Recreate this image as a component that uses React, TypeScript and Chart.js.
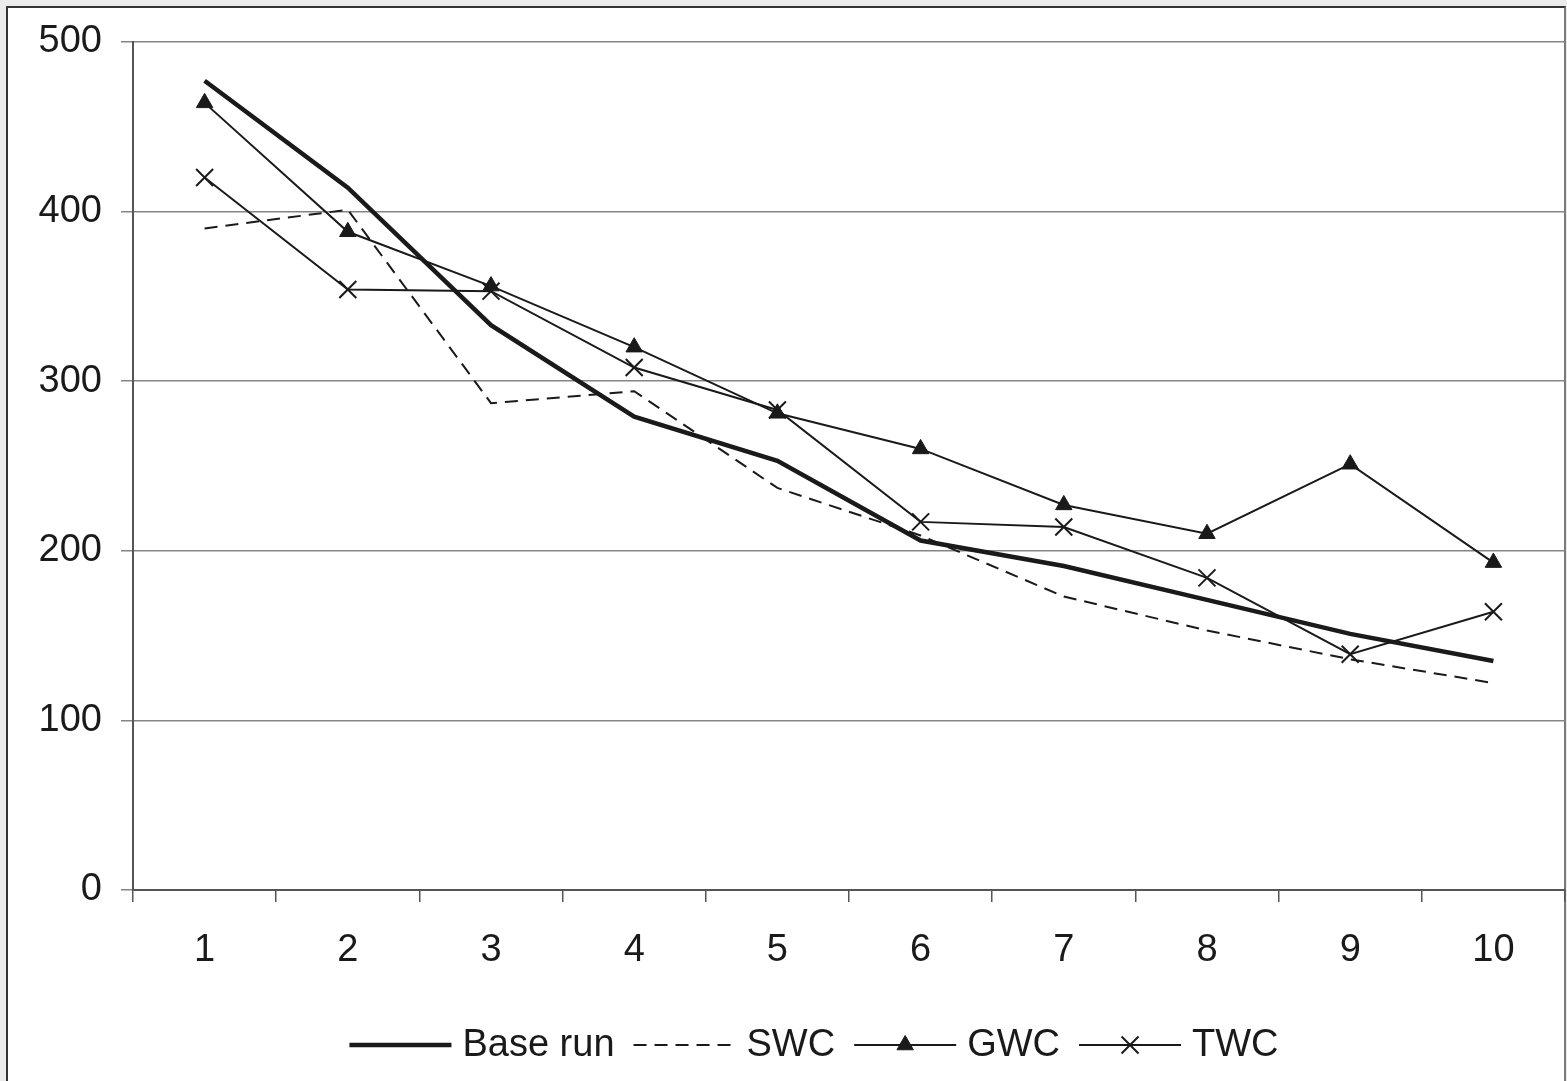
import React, { useEffect, useRef } from 'react';
import { Chart, registerables } from 'chart.js';
import { drawPoint } from 'chart.js/helpers';

Chart.register(...registerables);

const categories = ['1', '2', '3', '4', '5', '6', '7', '8', '9', '10'];
const seriesNames = ['Base run', 'SWC', 'GWC', 'TWC'];
const baseRun = [477, 414, 333, 279, 253, 206, 191, 171, 151, 135];
const swc = [390, 401, 287, 294, 237, 209, 173, 153, 136, 122];
const gwc = [464, 388, 356, 320, 281, 260, 227, 210, 251, 193];
const twc = [420, 354, 353, 308, 283, 217, 214, 184, 139, 164];
const yMin = 0;
const yMax = 500;
const yStep = 100;

const FONT = "'Liberation Sans', Arial, Helvetica, sans-serif";
const INK = '#1a1a1a';
const CANVAS_W = 1579;

const legendPlugin = {
  id: 'lineLegend',
  afterDraw(chart: any) {
    const ctx = chart.ctx;
    ctx.save();
    ctx.font = `38px ${FONT}`;
    const lineLen = 102;
    const gapText = 11;
    const gapItem = 19;
    const items = chart.data.datasets.map((ds: any) => ({ ds, w: ctx.measureText(ds.label).width }));
    const total =
      items.reduce((s: number, it: any) => s + lineLen + gapText + it.w, 0) + gapItem * (items.length - 1);
    let x = 814 - total / 2;
    const y = 1045;
    items.forEach(({ ds, w }: any) => {
      ctx.save();
      ctx.strokeStyle = ds.borderColor;
      ctx.lineWidth = ds.borderWidth;
      ctx.setLineDash(ds.borderDash || []);
      ctx.beginPath();
      ctx.moveTo(x, y);
      ctx.lineTo(x + lineLen, y);
      ctx.stroke();
      ctx.restore();
      if (ds.pointRadius > 0) {
        ctx.save();
        ctx.fillStyle = ds.pointBackgroundColor;
        ctx.strokeStyle = ds.pointBorderColor;
        ctx.lineWidth = ds.pointBorderWidth;
        drawPoint(
          ctx,
          { pointStyle: ds.pointStyle, rotation: 0, borderWidth: ds.pointBorderWidth, radius: ds.pointRadius } as any,
          x + lineLen / 2,
          y
        );
        ctx.restore();
      }
      ctx.fillStyle = INK;
      ctx.textBaseline = 'middle';
      ctx.textAlign = 'left';
      ctx.fillText(ds.label, x + lineLen + gapText, y + 1);
      x += lineLen + gapText + w + gapItem;
    });
    ctx.restore();
  },
};

export default function App() {
  const canvasRef = useRef<HTMLCanvasElement | null>(null);

  useEffect(() => {
    const canvas = canvasRef.current;
    if (!canvas) return;
    const tickFont = { family: FONT, size: 38 };
    const chart = new Chart(canvas, {
      type: 'line',
      data: {
        labels: categories,
        datasets: [
          {
            label: seriesNames[0],
            data: baseRun,
            borderColor: INK,
            borderWidth: 4.5,
            pointRadius: 0,
            fill: false,
            tension: 0,
          },
          {
            label: seriesNames[1],
            data: swc,
            borderColor: INK,
            borderWidth: 2,
            borderDash: [13, 8],
            pointRadius: 0,
            fill: false,
            tension: 0,
          },
          {
            label: seriesNames[2],
            data: gwc,
            borderColor: INK,
            borderWidth: 2,
            pointStyle: 'triangle',
            pointRadius: 9.5,
            pointBackgroundColor: INK,
            pointBorderColor: INK,
            pointBorderWidth: 1,
            fill: false,
            tension: 0,
          },
          {
            label: seriesNames[3],
            data: twc,
            borderColor: INK,
            borderWidth: 2,
            pointStyle: 'crossRot',
            pointRadius: 12,
            pointBackgroundColor: INK,
            pointBorderColor: INK,
            pointBorderWidth: 2,
            fill: false,
            tension: 0,
          },
        ] as any,
      },
      options: {
        responsive: false,
        animation: false,
        devicePixelRatio: 1,
        layout: { padding: { top: 40, right: 0, left: 0, bottom: 0 } },
        plugins: {
          legend: { display: false },
          tooltip: { enabled: false },
          title: { display: false },
        },
        elements: { line: { borderJoinStyle: 'miter' } },
        scales: {
          x: {
            type: 'category',
            offset: true,
            grid: {
              offset: true,
              drawOnChartArea: false,
              drawTicks: true,
              tickLength: 12,
              color: '#555555',
              lineWidth: 1.5,
            },
            border: { display: true, color: '#555555', width: 2 },
            ticks: { font: tickFont, color: INK, padding: 26, maxRotation: 0, autoSkip: false },
            afterFit: (s: any) => {
              s.height = 191;
            },
          },
          y: {
            min: yMin,
            max: yMax,
            ticks: { stepSize: yStep, font: tickFont, color: INK, padding: 19 },
            grid: { color: '#858585', lineWidth: 1.5, tickLength: 12, drawTicks: true },
            border: { display: true, color: '#555555', width: 2 },
            afterFit: (s: any) => {
              s.width = 133;
            },
          },
        },
      } as any,
      plugins: [legendPlugin],
    });
    return () => chart.destroy();
  }, []);

  return (
    <div
      style={{
        position: 'fixed',
        left: 0,
        top: 0,
        width: 1567,
        height: 1081,
        background: '#ebebeb',
        overflow: 'hidden',
      }}
    >
      <div
        style={{
          position: 'absolute',
          left: 6,
          top: 6,
          width: 1560,
          height: 1200,
          boxSizing: 'border-box',
          background: '#ffffff',
          borderLeft: '2px solid #333333',
          borderTop: '2px solid #333333',
          borderRight: '2px solid #7a7a7a',
        }}
      />
      <canvas
        ref={canvasRef}
        width={CANVAS_W}
        height={1081}
        style={{ position: 'absolute', left: 0, top: 0, width: CANVAS_W, height: 1081 }}
      />
    </div>
  );
}
